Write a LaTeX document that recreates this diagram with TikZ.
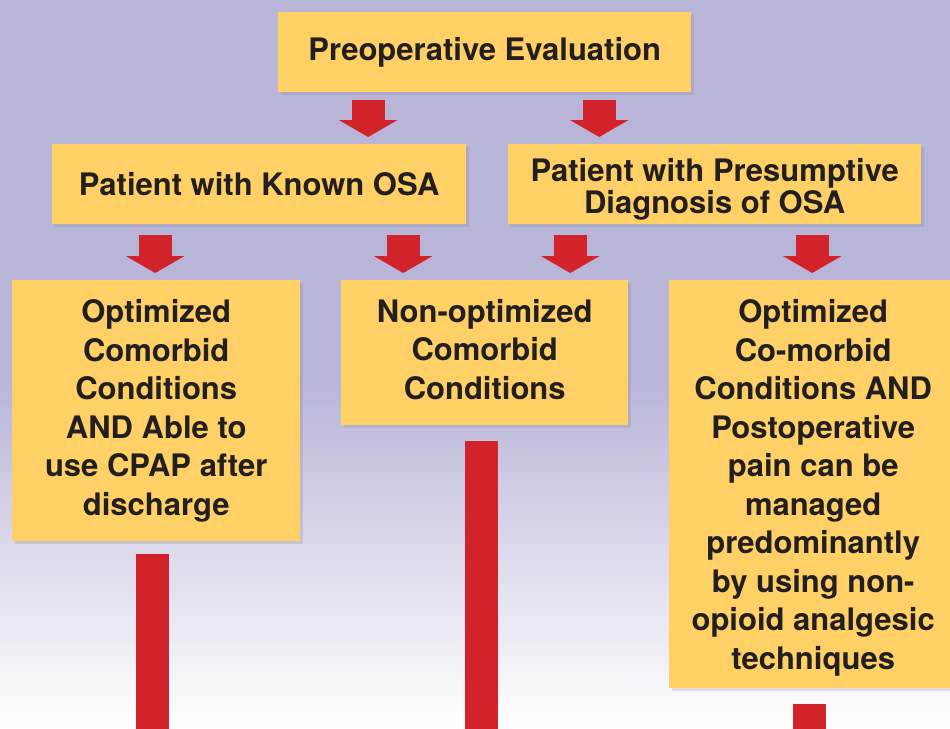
\documentclass[tikz,border=0pt]{standalone}
\usepackage{fontspec}
\setmainfont{TeX Gyre Heros}
\usetikzlibrary{arrows.meta,shadows}
\definecolor{boxyellow}{RGB}{255,208,102}
\definecolor{arrowred}{RGB}{210,35,42}
\definecolor{lavender}{RGB}{185,181,217}
\definecolor{lavmid}{RGB}{207,205,229}
\definecolor{txtgray}{RGB}{35,31,32}
\begin{document}
\begin{tikzpicture}[x=1pt,y=-1pt,
	box/.style={fill=boxyellow, inner sep=0pt, align=center, anchor=north west, text=txtgray,
		font=\fontsize{31}{38.5}\selectfont\bfseries,
		drop shadow={shadow xshift=3pt, shadow yshift=-3pt, opacity=0.22}},
	bigarrow/.style={arrowred, line width=33pt, -{Triangle[width=58pt,length=17pt]}},
	bar/.style={arrowred, line width=33pt}]
	\useasboundingbox (0,0) rectangle (950,728);
	\clip (0,0) rectangle (950,728);
	% background
	\fill[lavender] (0,0) rectangle (950,380);
	\shade[top color=lavender, middle color=lavmid, bottom color=white] (0,380) rectangle (950,728);
	% boxes
	\node[box, minimum width=413pt, minimum height=80pt] (pre) at (278,12) {Preoperative Evaluation};
	\node[box, minimum width=414pt, minimum height=80pt] (kosa) at (52,144) {Patient with Known OSA};
	\node[box, minimum width=413pt, minimum height=80pt, font=\fontsize{31}{32}\selectfont\bfseries] (posa) at (508,144) {\rule{0pt}{34pt}Patient with Presumptive\\Diagnosis of OSA};
	\node[box, minimum width=288pt, minimum height=261pt] (optA) at (12,280) {Optimized\\Comorbid\\Conditions\\AND Able to\\use CPAP after\\discharge};
	\node[box, minimum width=287pt, minimum height=145pt] (nonopt) at (341,280) {Non-optimized\\Comorbid\\Conditions\rule[-7pt]{0pt}{0pt}};
	\node[box, minimum width=288pt, minimum height=408pt] (optB) at (669,280) {\rule{0pt}{30pt}Optimized\\Co-morbid\\Conditions AND\\Postoperative\\pain can be\\managed\\predominantly\\by using non-\\opioid analgesic\\techniques};
	% arrows
	\draw[bigarrow] ([xshift=-116.5pt,yshift=-8pt]pre.south) -- ([xshift=109pt,yshift=7pt]kosa.north);
	\draw[bigarrow] ([xshift=114.5pt,yshift=-8pt]pre.south) -- ([xshift=-115.5pt,yshift=7pt]posa.north);
	\draw[bigarrow] ([xshift=-104pt,yshift=-11pt]kosa.south) -- ([xshift=-1pt,yshift=7pt]optA.north);
	\draw[bigarrow] ([xshift=144pt,yshift=-11pt]kosa.south) -- ([xshift=-81.5pt,yshift=7pt]nonopt.north);
	\draw[bigarrow] ([xshift=-144.5pt,yshift=-11pt]posa.south) -- ([xshift=85.5pt,yshift=7pt]nonopt.north);
	\draw[bigarrow] ([xshift=97.5pt,yshift=-11pt]posa.south) -- ([xshift=-1pt,yshift=7pt]optB.north);
	% stems running off the page
	\coordinate (bL) at (152.5,740);
	\coordinate (bM) at (481.5,740);
	\coordinate (bR) at (809.5,740);
	\draw[bar, shorten <=13pt] (optA.south -| bL) -- (bL);
	\draw[bar, shorten <=16pt] (nonopt.south -| bM) -- (bM);
	\draw[bar, shorten <=16pt] (optB.south -| bR) -- (bR);
\end{tikzpicture}
\end{document}
